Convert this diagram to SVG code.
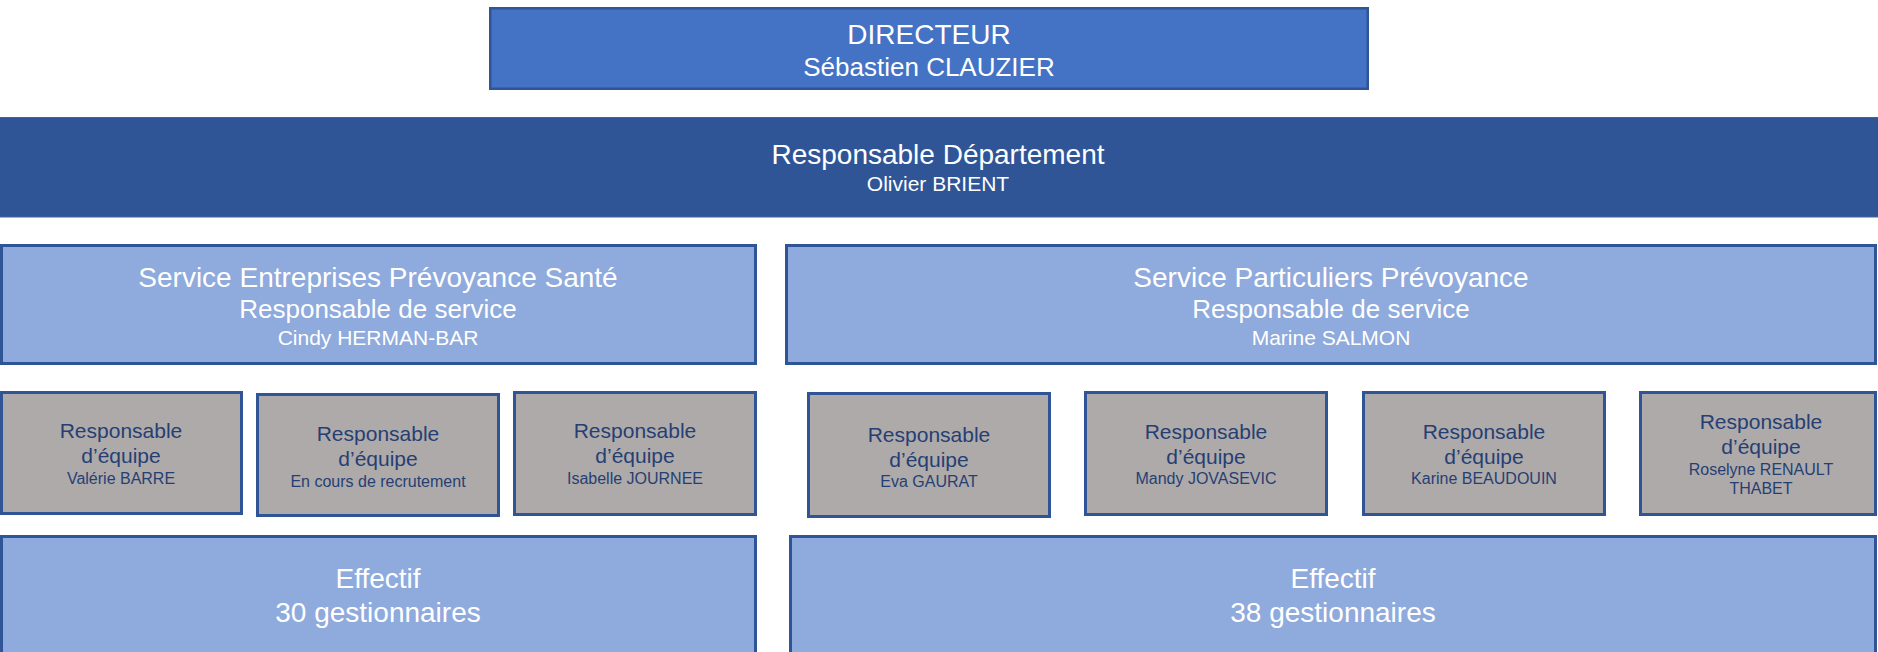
<svg xmlns="http://www.w3.org/2000/svg" width="1878" height="652" viewBox="0 0 1878 652">
  <style>
    text { font-family: "Liberation Sans", Arial, sans-serif; text-anchor: middle; }
    .director { fill: #4472C4; stroke: #2F5597; stroke-width: 2.5; }
    .dept { fill: #2F5597; stroke: #41649F; stroke-width: 1; }
    .service { fill: #8FAADC; stroke: #2F5597; stroke-width: 3; }
    .team { fill: #AEAAAA; stroke: #2F5597; stroke-width: 3; }
    .light { fill: #FFFFFF; }
    .dark { fill: #263F73; }
    .s28 { font-size: 28px; }
    .s26 { font-size: 26px; }
    .s21 { font-size: 21px; }
    .s16 { font-size: 16px; }
  </style>

  <!-- Direction -->
  <g id="directeur">
    <rect class="director" x="490.25" y="8.25" width="877.5" height="80.5"/>
    <text class="light s28" x="929" y="44">DIRECTEUR</text>
    <text class="light s26" x="929" y="76">Sébastien CLAUZIER</text>
  </g>

  <g id="responsable-departement">
    <rect class="dept" x="-1" y="117.5" width="1880" height="99.5"/>
    <text class="light s28" x="938" y="164">Responsable Département</text>
    <text class="light s21" x="938" y="191">Olivier BRIENT</text>
  </g>

  <!-- Services -->
  <g id="service-entreprises">
    <rect class="service" x="1.5" y="245.5" width="754" height="118"/>
    <text class="light s28" x="378" y="287">Service Entreprises Prévoyance Santé</text>
    <text class="light s26" x="378" y="318">Responsable de service</text>
    <text class="light s21" x="378" y="345">Cindy HERMAN-BAR</text>
  </g>

  <g id="service-particuliers">
    <rect class="service" x="786.5" y="245.5" width="1089" height="118"/>
    <text class="light s28" x="1331" y="287">Service Particuliers Prévoyance</text>
    <text class="light s26" x="1331" y="318">Responsable de service</text>
    <text class="light s21" x="1331" y="345">Marine SALMON</text>
  </g>

  <!-- Team leaders -->
  <g id="equipe-barre">
    <rect class="team" x="1.5" y="392.5" width="240" height="121"/>
    <text class="dark s21" x="121" y="438">Responsable</text>
    <text class="dark s21" x="121" y="463">d’équipe</text>
    <text class="dark s16" x="121" y="484">Valérie BARRE</text>
  </g>

  <g id="equipe-recrutement">
    <rect class="team" x="257.5" y="394.5" width="241" height="121"/>
    <text class="dark s21" x="378" y="441">Responsable</text>
    <text class="dark s21" x="378" y="466">d’équipe</text>
    <text class="dark s16" x="378" y="487">En cours de recrutement</text>
  </g>

  <g id="equipe-journee">
    <rect class="team" x="514.5" y="392.5" width="241" height="122"/>
    <text class="dark s21" x="635" y="438">Responsable</text>
    <text class="dark s21" x="635" y="463">d’équipe</text>
    <text class="dark s16" x="635" y="484">Isabelle JOURNEE</text>
  </g>

  <g id="equipe-gaurat">
    <rect class="team" x="808.5" y="393.5" width="241" height="123"/>
    <text class="dark s21" x="929" y="442">Responsable</text>
    <text class="dark s21" x="929" y="467">d’équipe</text>
    <text class="dark s16" x="929" y="487">Eva GAURAT</text>
  </g>

  <g id="equipe-jovasevic">
    <rect class="team" x="1085.5" y="392.5" width="241" height="122"/>
    <text class="dark s21" x="1206" y="439">Responsable</text>
    <text class="dark s21" x="1206" y="464">d’équipe</text>
    <text class="dark s16" x="1206" y="484">Mandy JOVASEVIC</text>
  </g>

  <g id="equipe-beaudouin">
    <rect class="team" x="1363.5" y="392.5" width="241" height="122"/>
    <text class="dark s21" x="1484" y="439">Responsable</text>
    <text class="dark s21" x="1484" y="464">d’équipe</text>
    <text class="dark s16" x="1484" y="484">Karine BEAUDOUIN</text>
  </g>

  <g id="equipe-renault-thabet">
    <rect class="team" x="1640.5" y="392.5" width="235" height="122"/>
    <text class="dark s21" x="1761" y="429">Responsable</text>
    <text class="dark s21" x="1761" y="454">d’équipe</text>
    <text class="dark s16" x="1761" y="475">Roselyne RENAULT</text>
    <text class="dark s16" x="1761" y="494">THABET</text>
  </g>

  <!-- Headcount -->
  <g id="effectif-entreprises">
    <rect class="service" x="1.5" y="536.5" width="754" height="130"/>
    <text class="light s28" x="378" y="588">Effectif</text>
    <text class="light s28" x="378" y="622">30 gestionnaires</text>
  </g>

  <g id="effectif-particuliers">
    <rect class="service" x="790.5" y="536.5" width="1085" height="130"/>
    <text class="light s28" x="1333" y="588">Effectif</text>
    <text class="light s28" x="1333" y="622">38 gestionnaires</text>
  </g>

  <!-- No connector lines are drawn between the boxes -->
  <g id="connectors"/>
</svg>
